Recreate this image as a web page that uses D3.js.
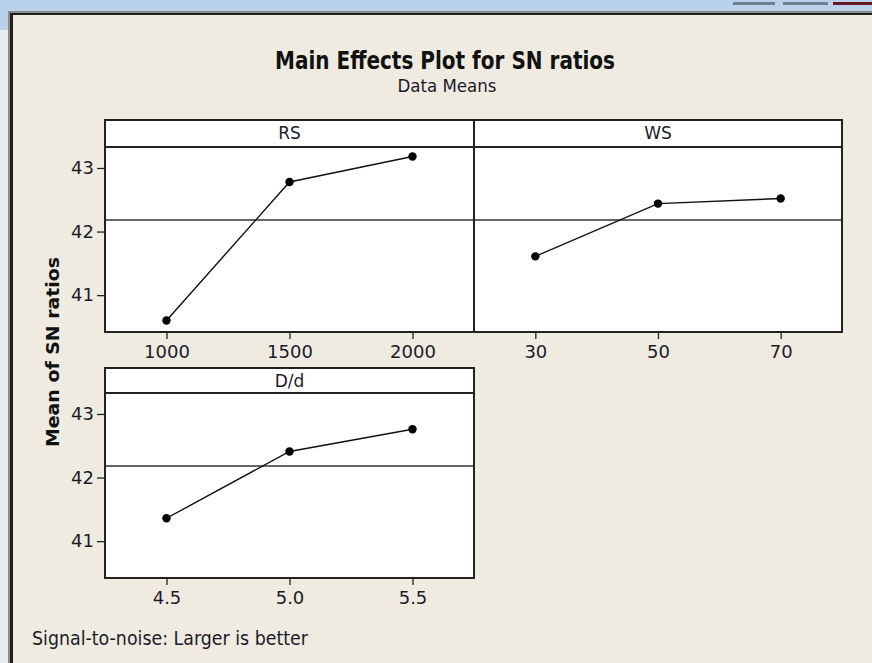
<!DOCTYPE html>
<html>
<head>
<meta charset="utf-8">
<script src="https://cdn.jsdelivr.net/npm/d3@7"></script>
<style>
  html, body { margin: 0; padding: 0; background: #efebe0; }
  svg { display: block; }
</style>
</head>
<body>
<script>
// ---- data ----
const title = "Main Effects Plot for SN ratios";
const subtitle = "Data Means";
const yLabel = "Mean of SN ratios";
const footnote = "Signal-to-noise: Larger is better";
const factors = ["RS", "WS", "D/d"];
const rsLevels = ["1000", "1500", "2000"];
const rsMeans = [40.60, 42.78, 43.18];
const wsLevels = ["30", "50", "70"];
const wsMeans = [41.61, 42.44, 42.52];
const ddLevels = ["4.5", "5.0", "5.5"];
const ddMeans = [41.36, 42.41, 42.76];
const yTicks = [41, 42, 43];
const grandMean = 42.18;
const yDomain = [40.42, 43.33];

// ---- layout ----
const W = 872, H = 663;
const FONT = "'DejaVu Sans', Verdana, sans-serif";
const TXT = "#1b1b2b";

const svg = d3.select("body").append("svg").attr("width", W).attr("height", H);

// window frame
svg.append("rect").attr("width", W).attr("height", H).attr("fill", "#efebe0");
svg.append("rect").attr("x", 0).attr("y", 0).attr("width", W).attr("height", 12).attr("fill", "#b9d1ea");
svg.append("rect").attr("x", 0).attr("y", 0).attr("width", 8).attr("height", H).attr("fill", "#e9ecef");
svg.append("rect").attr("x", 0).attr("y", 0).attr("width", 8).attr("height", 30).attr("fill", "#b9d1ea");
svg.append("rect").attr("x", 8).attr("y", 11).attr("width", W - 8).attr("height", 2).attr("fill", "#8a8a8a");
svg.append("rect").attr("x", 10).attr("y", 13).attr("width", W - 10).attr("height", 2).attr("fill", "#1e1e1e");
svg.append("rect").attr("x", 8).attr("y", 11).attr("width", 2).attr("height", H).attr("fill", "#8a8a8a");
svg.append("rect").attr("x", 10).attr("y", 13).attr("width", 3).attr("height", H).attr("fill", "#1e1e1e");
// window buttons (cut off)
svg.append("rect").attr("x", 733).attr("y", 2).attr("width", 42).attr("height", 3).attr("fill", "#6e7f90");
svg.append("rect").attr("x", 783).attr("y", 2).attr("width", 45).attr("height", 3).attr("fill", "#6e7f90");
svg.append("rect").attr("x", 833).attr("y", 2).attr("width", 39).attr("height", 3).attr("fill", "#6a1a26");

// titles
svg.append("text").attr("x", 445).attr("y", 69).attr("text-anchor", "middle")
  .attr("font-family", FONT).attr("font-weight", "bold").attr("font-size", 24)
  .attr("textLength", 340).attr("lengthAdjust", "spacingAndGlyphs")
  .attr("fill", "#111").text(title);
svg.append("text").attr("x", 447).attr("y", 92).attr("text-anchor", "middle")
  .attr("font-family", FONT).attr("font-size", 18)
  .attr("textLength", 99).attr("lengthAdjust", "spacingAndGlyphs")
  .attr("fill", TXT).text(subtitle);

// y label
svg.append("text").attr("transform", "translate(59,352) rotate(-90)")
  .attr("text-anchor", "middle")
  .attr("font-family", FONT).attr("font-weight", "bold").attr("font-size", 18)
  .attr("textLength", 190).attr("lengthAdjust", "spacingAndGlyphs")
  .attr("fill", "#111").text(yLabel);

// footnote
svg.append("text").attr("x", 32).attr("y", 645)
  .attr("font-family", FONT).attr("font-size", 19)
  .attr("textLength", 276).attr("lengthAdjust", "spacingAndGlyphs")
  .attr("fill", TXT).text(footnote);

const panels = [
  { name: factors[0], levels: rsLevels, means: rsMeans, x0: 105, x1: 474, top: 120, hb: 147, bottom: 332, yAxis: true },
  { name: factors[1], levels: wsLevels, means: wsMeans, x0: 474, x1: 842, top: 120, hb: 147, bottom: 332, yAxis: false },
  { name: factors[2], levels: ddLevels, means: ddMeans, x0: 105, x1: 474, top: 368, hb: 393, bottom: 578, yAxis: true }
];

panels.forEach(p => {
  const g = svg.append("g");
  const x = d3.scalePoint().domain(p.levels).range([p.x0, p.x1]).padding(0.5);
  const y = d3.scaleLinear().domain(yDomain).range([p.bottom, p.hb]);

  g.append("rect").attr("x", p.x0).attr("y", p.top)
    .attr("width", p.x1 - p.x0).attr("height", p.bottom - p.top)
    .attr("fill", "#ffffff");

  // reference line (grand mean)
  g.append("line").attr("x1", p.x0).attr("x2", p.x1)
    .attr("y1", y(grandMean)).attr("y2", y(grandMean))
    .attr("stroke", "#333").attr("stroke-width", 1.5);

  // header
  g.append("line").attr("x1", p.x0).attr("x2", p.x1).attr("y1", p.hb).attr("y2", p.hb)
    .attr("stroke", "#222").attr("stroke-width", 2);
  g.append("text").attr("x", (p.x0 + p.x1) / 2).attr("y", p.top + 19)
    .attr("text-anchor", "middle").attr("font-family", FONT).attr("font-size", 17)
    .attr("fill", TXT).text(p.name);

  // data
  const pts = p.levels.map((l, i) => [x(l), y(p.means[i])]);
  g.append("path").attr("d", d3.line()(pts))
    .attr("fill", "none").attr("stroke", "#111").attr("stroke-width", 1.4);
  g.selectAll("circle.pt").data(p.levels).enter().append("circle")
    .attr("class", "pt")
    .attr("cx", d => x(d)).attr("cy", (d, i) => y(p.means[i]))
    .attr("r", 4.2).attr("fill", "#000");

  // border
  g.append("rect").attr("x", p.x0).attr("y", p.top)
    .attr("width", p.x1 - p.x0).attr("height", p.bottom - p.top)
    .attr("fill", "none").attr("stroke", "#222").attr("stroke-width", 2);

  // x axis
  const xa = g.append("g").attr("transform", `translate(0,${p.bottom + 1})`)
    .call(d3.axisBottom(x).tickSize(6).tickPadding(6));
  xa.select(".domain").remove();
  xa.selectAll("line").attr("stroke", "#222").attr("stroke-width", 1.3);
  xa.selectAll("text").attr("font-family", FONT).attr("font-size", 18).attr("fill", TXT);

  if (p.yAxis) {
    const ya = g.append("g").attr("transform", `translate(${p.x0 - 1},0)`)
      .call(d3.axisLeft(y).tickValues(yTicks).tickFormat(d3.format("d")).tickSize(7).tickPadding(3));
    ya.select(".domain").remove();
    ya.selectAll("line").attr("stroke", "#222").attr("stroke-width", 1.3);
    ya.selectAll("text").attr("font-family", FONT).attr("font-size", 18).attr("fill", TXT);
  }
});
</script>
</body>
</html>
